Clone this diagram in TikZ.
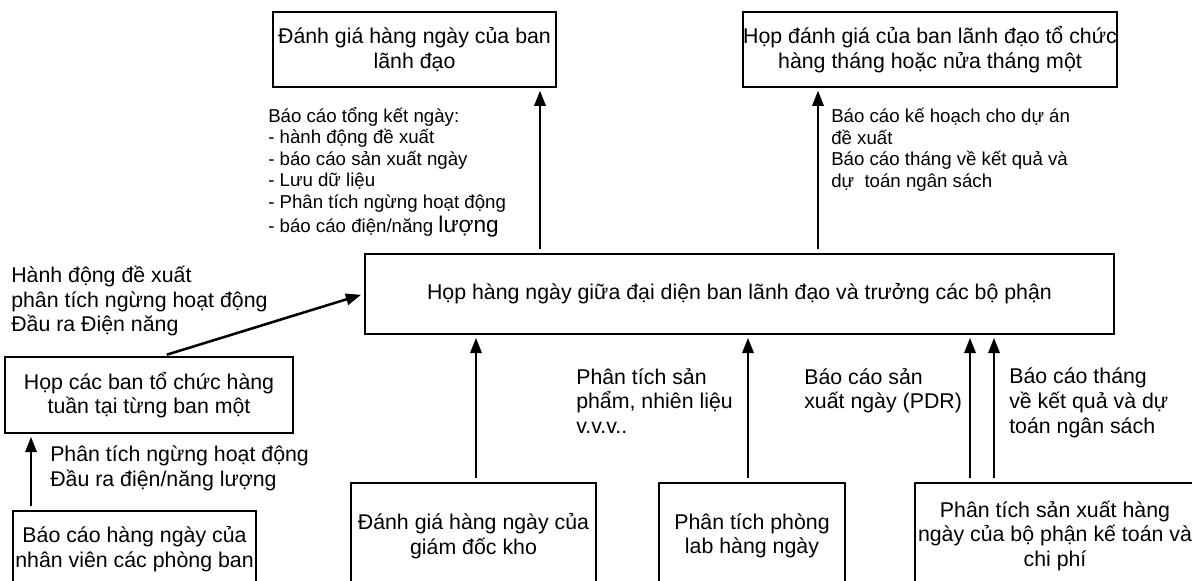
\documentclass[tikz,border=0pt]{standalone}
\usepackage{fontspec}
\setmainfont{Liberation Sans}
\usetikzlibrary{arrows.meta}
\begin{document}
\begin{tikzpicture}[x=0.75pt, y=-0.75pt,
	box/.style={draw, line width=1.7pt, align=center, inner sep=0pt, font=\fontsize{16}{18.4}\selectfont},
	lbl/.style={anchor=north west, align=left, inner sep=0pt, font=\fontsize{16}{18.4}\selectfont},
	small/.style={font=\fontsize{14}{16.1}\selectfont},
	arr/.style={-{Triangle[length=11.5pt,width=8.5pt]}, line width=1.9pt, shorten <=3pt, shorten >=2pt}]
	\useasboundingbox (0,0) rectangle (1192,581);
	\clip (0,0) rectangle (1192,581);

	%Top boxes:
	\node (lead) at (414.5,49.5) [box, minimum width=212pt, minimum height=56pt] {Đánh giá hàng ngày của ban\\lãnh đạo};
	\node (review) at (930,49.5) [box, minimum width=277pt, minimum height=56pt] {Họp đánh giá của ban lãnh đạo tổ chức\\hàng tháng hoặc nửa tháng một};

	%Daily meeting:
	\node (main) at (739.5,294) [box, minimum width=562pt, minimum height=60pt] {Họp hàng ngày giữa đại diện ban lãnh đạo và trưởng các bộ phận};

	%Left side:
	\node (weekly) at (149,395) [box, minimum width=216pt, minimum height=57pt] {Họp các ban tổ chức hàng\\tuần tại từng ban một};
	\node (staff) at (134.5,549) [box, minimum width=182pt, minimum height=57pt] {Báo cáo hàng ngày của\\nhân viên các phòng ban};

	%Bottom boxes:
	\node (stock) at (473.5,536) [box, minimum width=184pt, minimum height=80pt] {Đánh giá hàng ngày của\\giám đốc kho};
	\node (lab) at (752,536) [box, minimum width=140pt, minimum height=80pt] {Phân tích phòng\\lab hàng ngày};
	\node (acct) at (1055,536) [box, minimum width=210pt, minimum height=80pt] {Phân tích sản xuất hàng\\ngày của bộ phận kế toán và\\chi phí};

	%Labels:
	\node (sumlab) at (268,107) [lbl, small] {Báo cáo tổng kết ngày:\\- hành động đề xuất\\- báo cáo sản xuất ngày\\- Lưu dữ liệu\\- Phân tích ngừng hoạt động\\[2pt]- báo cáo điện/năng {\fontsize{17}{18}\selectfont lượng}};
	\node (planlab) at (831,108) [lbl, small] {Báo cáo kế hoạch cho dự án\\đề xuất\\Báo cáo tháng về kết quả và\\dự\ \ toán ngân sách};
	\node (actlab) at (11,266) [lbl] {Hành động đề xuất\\phân tích ngừng hoạt động\\Đầu ra Điện năng};
	\node (downlab) at (50,446) [lbl] {Phân tích ngừng hoạt động\\Đầu ra điện/năng lượng};
	\node (fuellab) at (576,368) [lbl] {Phân tích sản\\phẩm, nhiên liệu\\v.v.v..};
	\node (pdrlab) at (804,368) [lbl] {Báo cáo sản\\xuất ngày (PDR)};
	\node (budlab) at (1009,368) [lbl] {Báo cáo tháng\\về kết quả và dự\\toán ngân sách};

	%Arrows:
	\foreach \name/\x in {a1/540, a2/818, a3/476, a4/748, a5/970, a6/994, a7/31}
		\coordinate (\name) at (\x,0);
	\draw [arr] (a1 |- main.north) -- (a1 |- lead.south);
	\draw [arr] (a2 |- main.north) -- (a2 |- review.south);
	\foreach \c/\n in {a3/stock, a4/lab, a5/acct, a6/acct}
		\draw [arr] (\c |- \n.north) -- (\c |- main.south);
	\draw [arr] (a7 |- staff.north) -- (a7 |- weekly.south);
	\draw [arr] ([xshift=10.5pt]weekly.north) -- (main.west);

\end{tikzpicture}
\end{document}
